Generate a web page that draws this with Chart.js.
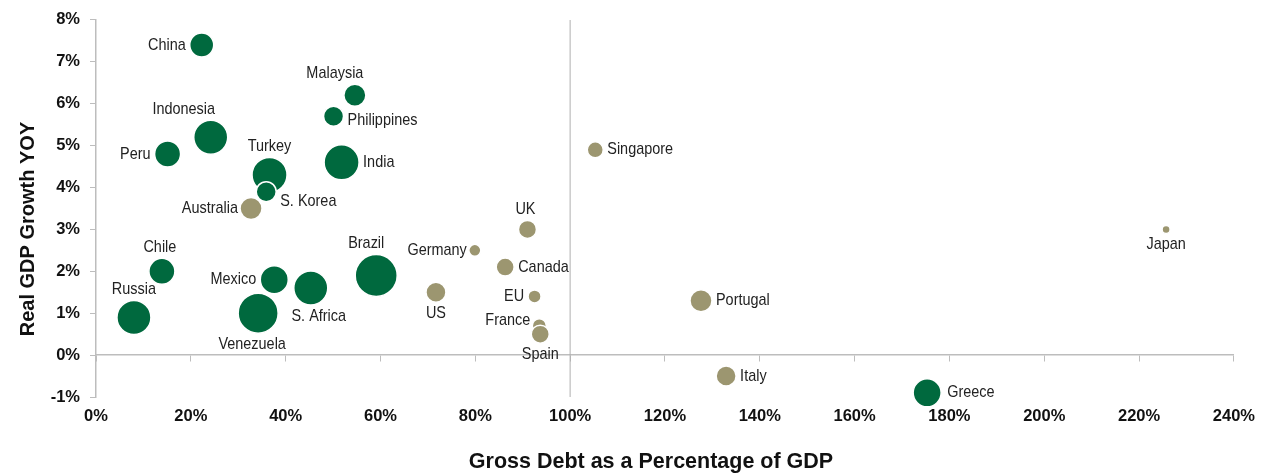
<!DOCTYPE html>
<html lang="en">
<head>
  <meta charset="UTF-8">
  <title>Debt vs Growth</title>
  <script src="https://cdn.jsdelivr.net/npm/chart.js"></script>
  <style>
    body { margin: 0; background: #fff; }
    #wrap { width: 1265px; height: 474px; position: relative; }
  </style>
</head>
<body>
<div id="wrap"><canvas id="chart"></canvas></div>
<script>
// emerging markets (green)
const emNames  = ["China", "Malaysia", "Philippines", "Indonesia", "Peru", "Turkey", "India", "S. Korea",
                  "Chile", "Russia", "Mexico", "Venezuela", "S. Africa", "Brazil", "Greece"];
const emDebt   = [22.3, 54.6, 50.1, 24.2, 15.1, 36.6, 51.8, 35.9, 13.9, 8.0, 37.6, 34.2, 45.3, 59.1, 175.3];
const emGrowth = [7.4, 6.2, 5.7, 5.2, 4.8, 4.3, 4.6, 3.9, 2.0, 0.9, 1.8, 1.0, 1.6, 1.9, -0.9];
const emSize   = [12, 11, 10, 17, 13, 17.5, 17.5, 10, 13, 17, 14, 20, 17, 21, 14];

// developed markets (tan)
const dmNames  = ["Australia", "US", "UK", "Germany", "Canada", "EU", "France", "Spain",
                  "Singapore", "Japan", "Portugal", "Italy"];
const dmDebt   = [32.7, 71.7, 91.0, 79.9, 86.3, 92.5, 93.5, 93.7, 105.3, 225.7, 127.6, 132.9];
const dmGrowth = [3.5, 1.5, 3.0, 2.5, 2.1, 1.4, 0.7, 0.5, 4.9, 3.0, 1.3, -0.5];
const dmSize   = [11, 10, 9, 6, 9, 6.5, 7, 9, 8, 4, 11, 10];

const xTicks = [0, 240, 20];   // min, max, step
const yTicks = [-1, 8, 1];
const divider = 100;
const xTitle = 'Gross Debt as a Percentage of GDP';
const yTitle = 'Real GDP Growth YOY';

// where each label sits relative to its bubble: side, dx, dy
const place = {
  "China": ["left", 0, 0], "Malaysia": ["top", -20, 0], "Philippines": ["right", 0, 4],
  "Indonesia": ["top", -27, 0], "Peru": ["left", 0, 0], "Turkey": ["top", 0, 0],
  "India": ["right", 0, 0], "S. Korea": ["right", 0, 10], "Chile": ["top", -2, 0],
  "Russia": ["top", 0, 0], "Mexico": ["left", 0, 0], "Venezuela": ["bottom", -6, 0],
  "S. Africa": ["bottom", 8, 0], "Brazil": ["top", -10, 0], "Greece": ["right", 2, 0],
  "Australia": ["left", 2, 0], "US": ["bottom", 0, 0], "UK": ["top", -2, 0],
  "Germany": ["left", 2, 0], "Canada": ["right", 0, 0], "EU": ["left", 0, 0],
  "France": ["left", 2, -5], "Spain": ["bottom", 0, 0], "Singapore": ["right", 0, 0],
  "Japan": ["bottom", 0, 0], "Portugal": ["right", 0, 0], "Italy": ["right", 0, 0]
};

const pts = (d, g, s) => d.map((v, i) => ({x: v, y: g[i], r: s[i]}));
const SQUEEZE = 0.85;   // fake a condensed face

const labelPlugin = {
  id: 'bubbleLabels',
  afterDatasetsDraw(chart) {
    const ctx = chart.ctx;
    ctx.save();
    ctx.font = '17px "Liberation Sans", Arial, sans-serif';
    ctx.fillStyle = '#222';
    ctx.textBaseline = 'middle';
    chart.data.datasets.forEach((ds, di) => {
      if (!ds.names) return;
      chart.getDatasetMeta(di).data.forEach((el, i) => {
        const name = ds.names[i];
        const [side, dx, dy] = place[name];
        const r = ds.data[i].r;
        let x = el.x + dx, y = el.y + dy;
        if (side === 'left') { ctx.textAlign = 'right'; x -= r + 4; }
        else if (side === 'right') { ctx.textAlign = 'left'; x += r + 4; }
        else if (side === 'top') { ctx.textAlign = 'center'; y -= r + 11; }
        else { ctx.textAlign = 'center'; y += r + 11; }
        ctx.save();
        ctx.translate(x, y);
        ctx.scale(SQUEEZE, 1);
        ctx.fillText(name, 0, 0);
        ctx.restore();
      });
    });
    // axis titles
    ctx.fillStyle = '#111';
    ctx.textAlign = 'center';
    ctx.font = 'bold 21.5px "Liberation Sans", Arial, sans-serif';
    ctx.fillText(xTitle, 651, 462);
    ctx.font = 'bold 20px "Liberation Sans", Arial, sans-serif';
    ctx.translate(28, 229);
    ctx.rotate(-Math.PI / 2);
    ctx.fillText(yTitle, 0, 0);
    ctx.restore();
  }
};

const tickFont = {family: '"Liberation Sans", Arial, sans-serif', size: 16.5, weight: 'bold'};
const axisGrey = '#BDBDBD';

new Chart(document.getElementById('chart'), {
  type: 'bubble',
  data: {
    datasets: [
      { label: 'Emerging', names: emNames, data: pts(emDebt, emGrowth, emSize), clip: false,
        backgroundColor: '#00693E', borderColor: '#fff', borderWidth: 1.5 },
      { label: 'Developed', names: dmNames, data: pts(dmDebt, dmGrowth, dmSize), clip: false,
        backgroundColor: '#9C9670', borderColor: '#fff', borderWidth: 1.5 },
      { type: 'line', label: 'divider', data: [{x: divider, y: yTicks[0]}, {x: divider, y: yTicks[1]}],
        borderColor: '#AFAFAF', borderWidth: 1, pointRadius: 0 }
    ]
  },
  options: {
    responsive: true,
    maintainAspectRatio: false,
    animation: false,
    layout: { autoPadding: false, padding: {top: 17, right: 27, left: 0, bottom: 0} },
    plugins: { legend: {display: false}, tooltip: {enabled: false} },
    scales: {
      x: {
        type: 'linear', position: 'bottom',
        min: xTicks[0], max: xTicks[1],
        afterFit: s => { s.height = 77; },
        grid: {display: false, drawTicks: false},
        border: {display: false},
        ticks: { stepSize: xTicks[2], padding: 10, color: '#111', font: tickFont, callback: v => v + '%' }
      },
      x2: {
        type: 'linear', axis: 'x', position: {y: 0},
        min: xTicks[0], max: xTicks[1],
        grid: {drawOnChartArea: false, drawTicks: true, tickLength: 6, tickColor: axisGrey},
        border: {color: axisGrey, width: 1.5},
        ticks: { stepSize: xTicks[2], display: false }
      },
      y: {
        min: yTicks[0], max: yTicks[1],
        afterFit: s => { s.width = 96; },
        grid: {drawOnChartArea: false, tickLength: 6, tickColor: axisGrey},
        border: {color: axisGrey, width: 1.5},
        ticks: { stepSize: yTicks[2], padding: 10, color: '#111', font: tickFont, callback: v => v + '%' }
      }
    }
  },
  plugins: [labelPlugin]
});
</script>
</body>
</html>
